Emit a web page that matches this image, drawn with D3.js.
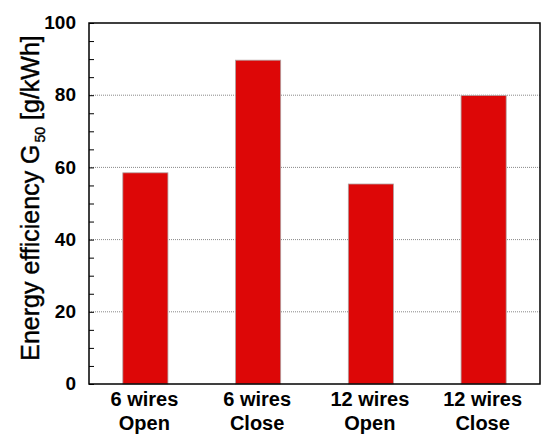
<!DOCTYPE html>
<html>
<head>
<meta charset="utf-8">
<script src="https://cdn.jsdelivr.net/npm/d3@7"></script>
<style>
  body { margin: 0; background: #fff; }
  text { font-family: "Liberation Sans", Arial, sans-serif; }
</style>
</head>
<body>
<svg id="chart" width="541" height="435"></svg>
<script>
// data
const lines1 = ["6 wires", "6 wires", "12 wires", "12 wires"];
const lines2 = ["Open", "Close", "Open", "Close"];
const values = [58.5, 89.7, 55.4, 79.9];
const majorTicks = [0, 20, 40, 60, 80, 100];

const margin = { top: 23, right: 1, bottom: 51, left: 89 };
const width = 541, height = 435;

const svg = d3.select("#chart");
const x = d3.scaleBand()
    .domain(d3.range(values.length))
    .range([margin.left, width - margin.right])
    .paddingInner(0.6)
    .paddingOuter(0.3);
const y = d3.scaleLinear().domain([0, 100]).range([height - margin.bottom, margin.top]);

// dotted grid at the major ticks
svg.append("g")
  .selectAll("line")
  .data(majorTicks.filter(d => d > 0 && d < 100))
  .enter().append("line")
    .attr("x1", margin.left).attr("x2", width - margin.right)
    .attr("y1", d => y(d)).attr("y2", d => y(d))
    .attr("stroke", "#888")
    .attr("stroke-width", 1)
    .attr("stroke-dasharray", "1,1");

// bars
svg.append("g")
  .selectAll("rect")
  .data(values)
  .enter().append("rect")
    .attr("x", (d, i) => x(i))
    .attr("y", d => y(d))
    .attr("width", x.bandwidth())
    .attr("height", d => y(0) - y(d))
    .attr("fill", "#dd0707")
    .attr("stroke", "#b0a0a0")
    .attr("stroke-width", 0.8);

// y axis, inner ticks
const yAxis = d3.axisLeft(y).tickValues(d3.range(0, 101, 5)).tickSize(-5).tickFormat("");
svg.append("g")
    .attr("transform", `translate(${margin.left},0)`)
    .call(yAxis)
    .call(g => g.select(".domain").remove())
    .selectAll("line").attr("stroke", "#000").attr("stroke-width", 1);

svg.append("g")
  .selectAll("text")
  .data(majorTicks)
  .enter().append("text")
    .attr("x", 76)
    .attr("y", d => y(d))
    .attr("dy", "0.33em")
    .attr("text-anchor", "end")
    .attr("font-size", 19)
    .attr("font-weight", "bold")
    .text(d => d);

// frame
svg.append("rect")
    .attr("x", margin.left).attr("y", margin.top)
    .attr("width", width - margin.right - margin.left)
    .attr("height", height - margin.bottom - margin.top)
    .attr("fill", "none")
    .attr("stroke", "#000")
    .attr("stroke-width", 1.5);

// x labels
const xl = svg.append("g")
  .selectAll("text")
  .data(values)
  .enter().append("text")
    .attr("text-anchor", "middle")
    .attr("font-size", 20)
    .attr("font-weight", "bold");
xl.append("tspan")
    .attr("x", (d, i) => x(i) + x.bandwidth() / 2 - 1)
    .attr("y", 406)
    .text((d, i) => lines1[i]);
xl.append("tspan")
    .attr("x", (d, i) => x(i) + x.bandwidth() / 2 - 1)
    .attr("y", 430)
    .text((d, i) => lines2[i]);

// y label
const yl = svg.append("text")
    .attr("transform", "translate(39,198) rotate(-90)")
    .attr("text-anchor", "middle")
    .attr("font-size", 25)
    .attr("stroke", "#000")
    .attr("stroke-width", 0.4);
yl.append("tspan").text("Energy efficiency G");
yl.append("tspan").attr("font-size", 14).attr("dy", 6).attr("dx", 2).text("50");
yl.append("tspan").attr("dy", -6).text("\u00a0[g/kWh]");
</script>
</body>
</html>
